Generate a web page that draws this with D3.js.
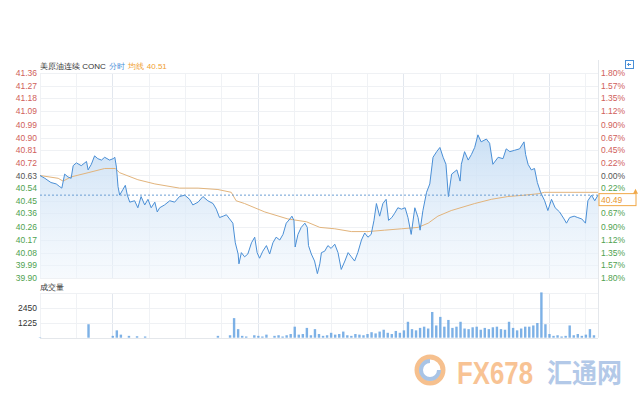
<!DOCTYPE html>
<html><head><meta charset="utf-8">
<script src="https://cdn.jsdelivr.net/npm/d3@7"></script>
<style>body{margin:0;background:#fff;} svg{display:block;font-family:"Liberation Sans",Arial,sans-serif;}</style>
</head><body><svg id="c" width="640" height="400"></svg>
<script>
// ---- data ----
const title = "美原油连续 CONC";
const prevClose = 40.63, lastPrice = 40.49, avgLast = 40.51;
const priceTimes = [0,12,27,40,49,54,61,69,77,82,90,102,115,119,127,135,143,152,160,172,181,185,189,193,197,205,211,216,222,234,242,250,259,267,275,284,290,296,308,321,333,345,358,370,378,391,403,415,428,436,444,453,461,469,477,483,490,492,498,506,514,523,531,537,543,551,560,568,576,584,593,601,609,618,623,628,631,638,646,655,661,664,671,679,686,692,696,704,712,720,729,737,745,754,762,770,778,786,795,803,811,819,826,832,840,848,856,862,870,877,885,894,903,910,918,927,935,940,947,956,964,972,981,989,997,1004,1010,1018,1031,1039,1042,1050,1059,1067,1075,1083,1091,1104,1112,1120,1133,1145,1153,1162,1174,1186,1197,1201,1207,1215,1223,1230,1238,1248,1256,1265,1274,1285,1296,1302,1310,1321,1330,1340,1349,1355,1364,1372,1380];
const prices = [40.63,40.61,40.58,40.57,40.55,40.54,40.64,40.62,40.61,40.70,40.72,40.70,40.73,40.67,40.71,40.77,40.75,40.74,40.76,40.74,40.75,40.76,40.69,40.55,40.49,40.53,40.56,40.49,40.44,40.45,40.40,40.48,40.42,40.46,40.40,40.44,40.37,40.40,40.42,40.45,40.44,40.48,40.49,40.46,40.42,40.44,40.48,40.45,40.43,40.39,40.33,40.34,40.35,40.32,40.29,40.15,40.07,40.00,40.08,40.05,40.07,40.15,40.19,40.08,40.04,40.09,40.13,40.07,40.15,40.19,40.17,40.21,40.29,40.32,40.34,40.31,40.12,40.21,40.26,40.29,40.26,40.13,40.07,40.02,39.93,40.00,40.08,40.09,40.13,40.11,40.14,40.08,39.96,40.02,40.08,40.05,40.02,40.08,40.17,40.22,40.19,40.21,40.31,40.43,40.34,40.43,40.46,40.31,40.33,40.36,40.40,40.39,40.40,40.33,40.21,40.40,40.33,40.24,40.38,40.51,40.57,40.76,40.80,40.83,40.76,40.71,40.48,40.64,40.67,40.59,40.71,40.80,40.74,40.78,40.83,40.92,40.87,40.89,40.86,40.71,40.76,40.75,40.82,40.80,40.81,40.82,40.87,40.78,40.71,40.67,40.68,40.58,40.51,40.45,40.38,40.46,40.40,40.37,40.32,40.29,40.33,40.34,40.33,40.32,40.29,40.45,40.49,40.45,40.49];
const avgTimes = [0,45,57,77,119,160,186,197,242,284,345,391,440,473,485,506,556,613,659,692,729,770,811,852,894,935,960,984,1017,1075,1116,1157,1199,1232,1248,1380];
const avgPrices = [40.63,40.61,40.59,40.62,40.65,40.68,40.68,40.65,40.60,40.57,40.54,40.54,40.53,40.51,40.45,40.43,40.37,40.32,40.30,40.26,40.25,40.23,40.23,40.24,40.25,40.26,40.29,40.34,40.38,40.43,40.46,40.48,40.49,40.50,40.51,40.51];
const volStep = 10; // minutes per volume bucket
const volumes = [30,0,0,0,0,0,0,0,0,0,
 0,0,1100,0,0,0,0,0,150,600,
 250,0,150,0,120,0,100,0,0,0,
 0,0,0,0,0,0,0,0,0,0,
 0,0,0,0,150,0,0,200,1600,700,
 150,100,0,200,150,100,250,0,150,200,
 100,200,300,900,250,300,800,200,700,300,
 150,200,400,250,300,500,200,150,300,250,
 200,300,450,350,500,650,400,300,550,400,
 600,1300,700,600,800,900,750,2100,1000,1700,
 900,1450,800,900,1300,750,700,850,900,650,
 800,700,850,900,700,650,1300,800,600,750,
 900,900,1000,1200,3700,1100,300,150,200,100,
 150,1000,200,300,150,250,700,200];
const priceTicks = [41.36,41.27,41.18,41.09,40.99,40.90,40.81,40.72,40.63,40.54,40.45,40.36,40.26,40.17,40.08,39.99,39.90];
const pctLabels = ["1.80%","1.57%","1.35%","1.12%","0.90%","0.67%","0.45%","0.22%","0.00%","0.22%","0.45%","0.67%","0.90%","1.12%","1.35%","1.57%","1.80%"];
const volTicks = [1225, 2450];
const volMax = 3675;
const sessionMinutes = 1380;

// ---- layout ----
const L = 40, R = 598, T = 73, B = 278, VT = 292.7, VB = 337.7;
const svg = d3.select("#c");
const x = d3.scaleLinear().domain([0, sessionMinutes]).range([L, R]);
const y = d3.scaleLinear().domain([39.899, 41.361]).range([B, T]);
const yv = d3.scaleLinear().domain([0, volMax]).range([VB, VT]);
const RED = "#d0605a", GREEN = "#4fa24f", GRAY = "#555";
const colorFor = v => Math.abs(v - prevClose) < 0.005 ? GRAY : (v > prevClose ? RED : GREEN);

// gradient
const defs = svg.append("defs");
const g = defs.append("linearGradient").attr("id","fillg").attr("gradientUnits","userSpaceOnUse")
  .attr("x1",0).attr("x2",0).attr("y1",y(40.9)).attr("y2",B);
g.append("stop").attr("offset","0").attr("stop-color","#c6ddf4").attr("stop-opacity",0.9);
g.append("stop").attr("offset","1").attr("stop-color","#eef5fc").attr("stop-opacity",0.5);

// grid
const vgrid = d3.range(0, sessionMinutes + 1, 90);
svg.append("g").selectAll("line").data(vgrid).join("line")
  .attr("x1", d => x(d)).attr("x2", d => x(d)).attr("y1", T).attr("y2", B)
  .attr("stroke", d => (d % 360 === 180) ? "#e2e7ee" : "#f0f2f5").attr("shape-rendering","crispEdges");
svg.append("g").selectAll("line").data(vgrid).join("line")
  .attr("x1", d => x(d)).attr("x2", d => x(d)).attr("y1", VT).attr("y2", VB)
  .attr("stroke", d => (d % 360 === 180) ? "#e2e7ee" : "#f0f2f5").attr("shape-rendering","crispEdges");
svg.append("g").selectAll("line").data(priceTicks).join("line")
  .attr("x1", L).attr("x2", R).attr("y1", d => Math.round(y(d)) + 0.5).attr("y2", d => Math.round(y(d)) + 0.5)
  .attr("stroke", "#eff1f4");
svg.append("g").selectAll("line").data([0, ...volTicks, volMax]).join("line")
  .attr("x1", L).attr("x2", R).attr("y1", d => Math.round(yv(d)) + 0.5).attr("y2", d => Math.round(yv(d)) + 0.5)
  .attr("stroke", d => d === 0 ? "#e4e7eb" : "#eff1f4");
// right border
svg.append("line").attr("x1", R + 0.5).attr("x2", R + 0.5).attr("y1", 60).attr("y2", VB)
  .attr("stroke", "#e4e7eb");

// area + line
const pts = priceTimes.map((t, i) => [t, prices[i]]);
svg.append("path").datum(pts)
  .attr("d", d3.area().x(d => x(d[0])).y0(B).y1(d => y(d[1])))
  .attr("fill", "url(#fillg)");
svg.append("path").datum(avgTimes.map((t, i) => [t, avgPrices[i]]))
  .attr("d", d3.line().x(d => x(d[0])).y(d => y(d[1])))
  .attr("fill", "none").attr("stroke", "#e2b47c").attr("stroke-width", 1);
svg.append("path").datum(pts)
  .attr("d", d3.line().x(d => x(d[0])).y(d => y(d[1])))
  .attr("fill", "none").attr("stroke", "#4a8fd6").attr("stroke-width", 1);
// last price dashed line
svg.append("line").attr("x1", L).attr("x2", R).attr("y1", y(lastPrice)).attr("y2", y(lastPrice))
  .attr("stroke", "#6b9fd3").attr("stroke-dasharray", "2,2").attr("stroke-width", 1);

// axes labels
const fs = 8.5;
const ty = y(lastPrice);
svg.append("g").selectAll("text").data(priceTicks).join("text")
  .attr("x", 37).attr("y", d => y(d) + 3).attr("text-anchor", "end")
  .attr("font-size", fs).attr("fill", d => colorFor(d)).text(d => d.toFixed(2));
// right-hand percent labels (the one hidden under the last-price tag is not drawn)
svg.append("g").selectAll("text")
  .data(pctLabels.map((p, i) => ({p, v: priceTicks[i]})).filter(d => Math.abs(y(d.v) - (ty + 4.5)) > 6))
  .join("text")
  .attr("x", 601).attr("y", d => y(d.v) + 3)
  .attr("font-size", fs).attr("fill", d => colorFor(d.v)).text(d => d.p);

// last price tag
svg.append("rect").attr("x", 599).attr("y", ty - 1.5).attr("width", 37).attr("height", 12)
  .attr("fill", "#fff").attr("stroke", "#f0a848").attr("stroke-width", 1);
svg.append("text").attr("x", 601).attr("y", ty + 7.8).attr("font-size", fs).attr("fill", "#e8962e").text(lastPrice.toFixed(2));
svg.append("path").attr("d", `M633,${ty-1.5} l2.5,-5 l2.5,5 Z`).attr("fill", "#f0a848");

// legend
const leg = svg.append("text").attr("x", 40).attr("y", 69).attr("font-size", 8);
leg.append("tspan").attr("fill", "#333").text(title);
leg.append("tspan").attr("fill", "#4a90d9").attr("dx", 3).text("分时");
leg.append("tspan").attr("fill", "#f0a030").attr("dx", 3).text("均线");
leg.append("tspan").attr("fill", "#f0a030").attr("dx", 3).text(avgLast.toFixed(2));

// top-right icon
svg.append("rect").attr("x", 625.5).attr("y", 60.5).attr("width", 8).attr("height", 8)
  .attr("fill", "#fff").attr("stroke", "#4a8fd6");
svg.append("path").attr("d", "M631,64.5 L627.5,64.5 M629,63 L627.5,64.5 L629,66").attr("stroke", "#4a8fd6").attr("fill", "none");

// volume
svg.append("text").attr("x", 40).attr("y", 290).attr("font-size", 8).attr("fill", "#333").text("成交量");
svg.append("g").selectAll("text").data(volTicks).join("text")
  .attr("x", 37).attr("y", d => yv(d) + 3).attr("text-anchor", "end")
  .attr("font-size", fs).attr("fill", "#333").text(d => d);
svg.append("g").selectAll("rect").data(volumes).join("rect")
  .attr("x", (d, i) => x(i * volStep) - 1.2).attr("width", 2.4)
  .attr("y", d => yv(d)).attr("height", d => VB - yv(d))
  .attr("fill", "#5c9ee0").attr("opacity", 0.8);

// watermark
const wm = svg.append("g");
wm.append("circle").attr("cx", 430).attr("cy", 370).attr("r", 13).attr("fill", "none").attr("stroke", "#f6c08e").attr("stroke-width", 5);
wm.append("path").attr("d", "M430,361 a9,9 0 1,0 9,9").attr("fill", "none").attr("stroke", "#a8c4e6").attr("stroke-width", 4);
wm.append("text").attr("x", 457).attr("y", 384).attr("font-size", 32).attr("font-weight", "bold")
  .attr("textLength", 76).attr("lengthAdjust", "spacingAndGlyphs").attr("fill", "#f8c394").text("FX678");
wm.append("text").attr("x", 547).attr("y", 383).attr("font-size", 27).attr("font-weight", "bold")
  .style("font-family", "'Noto Sans CJK SC'")
  .attr("textLength", 75).attr("lengthAdjust", "spacingAndGlyphs").attr("fill", "#b3c9e8").text("汇通网");
</script></body></html>
